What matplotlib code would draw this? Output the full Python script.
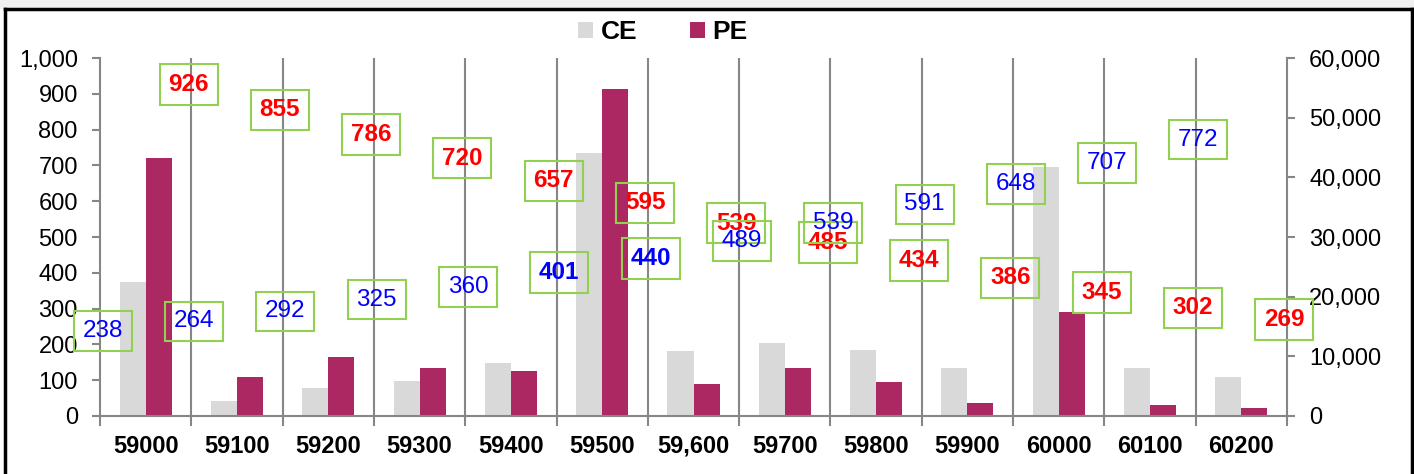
import matplotlib.pyplot as plt
import numpy as np
from matplotlib.lines import Line2D
from matplotlib.patches import Rectangle

plt.rcParams['font.family'] = ['Liberation Sans', 'DejaVu Sans']

# strikes and open interest (bars, right axis)
strikes = ['59000', '59100', '59200', '59300', '59400', '59500', '59,600',
           '59700', '59800', '59900', '60000', '60100', '60200']
ce_oi = [22400, 2500, 4750, 5900, 8800, 44000, 10900, 12200, 11100, 8050, 41800, 8050, 6550]
pe_oi = [43300, 6500, 9900, 8000, 7500, 54800, 5300, 8000, 5650, 2200, 17400, 1900, 1400]

# premiums (labels, left axis)
ce_prem = [238, 264, 292, 325, 360, 401, 440, 489, 539, 591, 648, 707, 772]
pe_prem = [926, 855, 786, 720, 657, 595, 539, 485, 434, 386, 345, 302, 269]
ce_bold = [401, 440]

ce_color = '#d9d9d9'
pe_color = '#ab2862'
axis_grey = '#868686'

fig = plt.figure(figsize=(14.14, 4.74), dpi=100)
ax = fig.add_axes([100 / 1414, 1 - 416 / 474, 1187 / 1414, 358 / 474])

x = np.arange(len(strikes))
w = 0.285
ax.bar(x - w / 2, ce_oi, w, color=ce_color, label='CE', zorder=2)
ax.bar(x + w / 2, pe_oi, w, color=pe_color, label='PE', zorder=2)

ax.set_xlim(-0.5, len(strikes) - 0.5)
ax.set_ylim(0, 60000)
ax.set_yticks(np.arange(0, 60001, 10000))
ax.yaxis.set_major_formatter(plt.FuncFormatter(lambda v, p: f'{v:,.0f}'))

# vertical lines at category boundaries
for b in np.arange(0.5, len(strikes) - 0.5, 1):
    ax.axvline(b, color=axis_grey, lw=1.5, zorder=1)

ax.set_xticks(x)
ax.set_xticklabels(strikes, fontsize=17, fontweight='bold', va='baseline')
ax.set_xticks(np.arange(-0.5, len(strikes), 1), minor=True)
ax.tick_params(axis='x', which='major', length=0, pad=26.5)
ax.tick_params(axis='x', which='minor', length=7, width=1.5, color=axis_grey)

# premium axis on the left, labels drawn on top
ax2 = ax.twinx()
ax.yaxis.tick_right()
ax.tick_params(axis='y', labelsize=17, length=6, width=1.5, color=axis_grey, pad=10)
for s in ['top', 'left']:
    ax.spines[s].set_visible(False)
for s in ['bottom', 'right']:
    ax.spines[s].set_color(axis_grey)
    ax.spines[s].set_linewidth(1.5)

ax2.set_ylim(0, 1000)
ax2.set_yticks(np.arange(0, 1001, 100))
ax2.yaxis.tick_left()
ax2.yaxis.set_major_formatter(plt.FuncFormatter(lambda v, p: f'{v:,.0f}'))
ax2.tick_params(axis='y', labelsize=17, length=6, width=1.5, color=axis_grey, pad=10)
for s in ['top', 'right', 'bottom']:
    ax2.spines[s].set_visible(False)
ax2.spines['left'].set_visible(True)
ax2.spines['left'].set_color(axis_grey)
ax2.spines['left'].set_linewidth(1.5)

box = dict(boxstyle='square,pad=0.36', fc='none', ec='#92d050', lw=1.5)
for i in range(len(strikes)):
    ax2.text(x[i] + 0.47, pe_prem[i], str(pe_prem[i]), color='#ff0000', fontsize=17.5,
             fontweight='bold', ha='center', va='center', bbox=box)
    ax2.text(x[i] - 0.47, ce_prem[i], str(ce_prem[i]), color='#0000ff', fontsize=17.5,
             fontweight='bold' if ce_prem[i] in ce_bold else 'normal',
             ha='center', va='center', bbox=box)

fig.legend(loc='center', bbox_to_anchor=(663 / 1414, 1 - 32 / 474), ncol=2,
           frameon=False, prop={'size': 19, 'weight': 'bold'},
           handlelength=0.55, handleheight=0.55, handletextpad=0.3, columnspacing=2.0)

# outer frame
fig.patches.append(Rectangle((0, 1 - 8 / 474), 1, 8 / 474, transform=fig.transFigure,
                             color='#f0f0f0', zorder=0))
fig.lines.append(Line2D([5 / 1414, 1412 / 1414], [1 - 9 / 474] * 2, transform=fig.transFigure,
                        color='black', lw=2.5))
fig.lines.append(Line2D([5 / 1414] * 2, [0, 1 - 9 / 474], transform=fig.transFigure,
                        color='black', lw=2.5))
fig.lines.append(Line2D([1412 / 1414] * 2, [0, 1 - 9 / 474], transform=fig.transFigure,
                        color='black', lw=2.5))

plt.savefig('out.png', dpi=100)
